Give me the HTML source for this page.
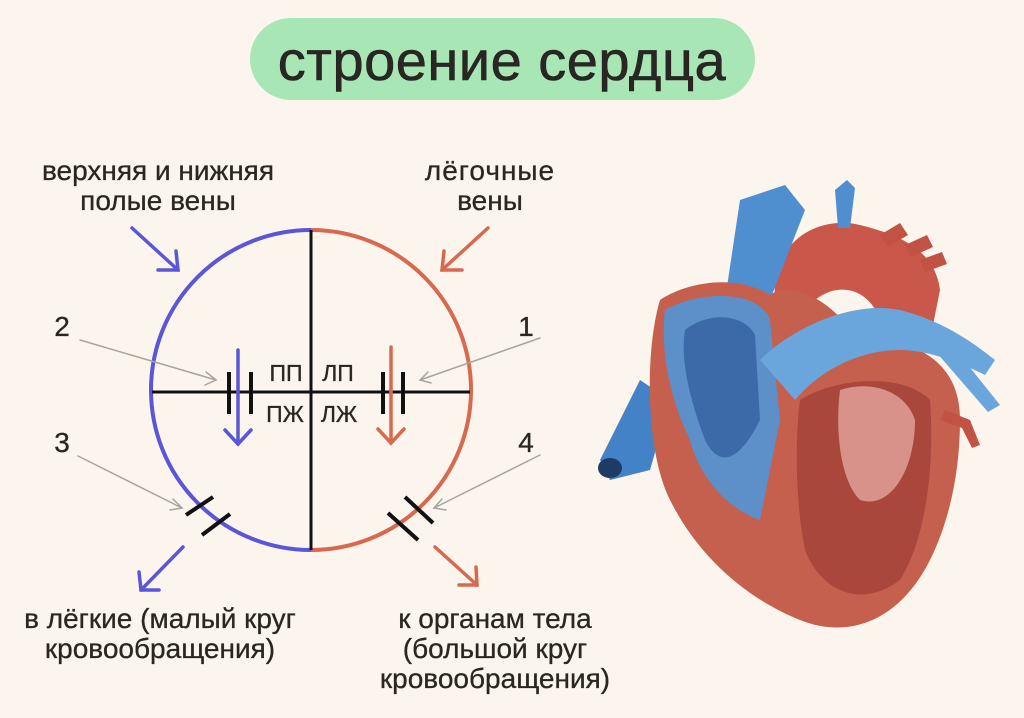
<!DOCTYPE html>
<html><head><meta charset="utf-8"><style>
html,body{margin:0;padding:0;background:#fbf5ee;}
svg{display:block}
text{font-family:"Liberation Sans","DejaVu Sans",sans-serif;fill:#2a2622}
</style></head><body>
<svg width="1024" height="718" viewBox="0 0 1024 718" xmlns="http://www.w3.org/2000/svg">
<rect width="1024" height="718" fill="#fbf5ee"/>
<rect x="250" y="18" width="505" height="82" rx="41" fill="#a8e6b6"/>
<text x="502" y="80" font-size="56" text-anchor="middle" fill="#222" stroke="#222" stroke-width="0.6" letter-spacing="0.5">строение сердца</text>

<g font-size="28" text-anchor="middle" stroke="#2a2622" stroke-width="0.3">
<text x="158" y="180">верхняя и нижняя</text>
<text x="158" y="210">полые вены</text>
<text x="490" y="180" letter-spacing="1">лёгочные</text>
<text x="490" y="210">вены</text>
<text x="160" y="628">в лёгкие (малый круг</text>
<text x="160" y="658">кровообращения)</text>
<text x="495" y="628">к органам тела</text>
<text x="495" y="658">(большой круг</text>
<text x="495" y="688">кровообращения)</text>
<text x="62" y="336">2</text><text x="526" y="336">1</text>
<text x="62" y="452">3</text><text x="526" y="452">4</text>
</g>

<path d="M311 230 A160 160 0 0 0 311 550" fill="none" stroke="#5b56d8" stroke-width="4"/>
<path d="M311 230 A160 160 0 0 1 311 550" fill="none" stroke="#d8694f" stroke-width="4"/>
<line x1="311" y1="230" x2="311" y2="550" stroke="#111" stroke-width="3"/>
<line x1="152" y1="392" x2="470" y2="392" stroke="#111" stroke-width="3"/>
<g stroke="#111" stroke-width="4">
<line x1="229" y1="372" x2="229" y2="414"/><line x1="251" y1="372" x2="251" y2="414"/>
<line x1="383" y1="372" x2="383" y2="414"/><line x1="403" y1="372" x2="403" y2="414"/>
<line x1="186" y1="515" x2="213" y2="497"/><line x1="202" y1="535" x2="230" y2="514"/>
<line x1="388" y1="513" x2="418" y2="540"/><line x1="405" y1="497" x2="433" y2="523"/>
</g>
<g font-size="23" text-anchor="middle" stroke="#2a2622" stroke-width="0.3">
<text x="286" y="381">ПП</text><text x="338" y="381">ЛП</text>
<text x="285" y="422">ПЖ</text><text x="339" y="422">ЛЖ</text>
</g>
<g fill="none" stroke-width="3.5" stroke-linecap="round">
<g stroke="#5b56d8">
<line x1="238" y1="350" x2="238" y2="444"/><polyline points="225,430 238,444 251,430"/>
<line x1="132" y1="228" x2="178" y2="270"/><polyline points="158,270 178,270 176,251"/>
<line x1="183" y1="547" x2="141" y2="590"/><polyline points="139,572 141,590 159,590"/>
</g>
<g stroke="#d8694f">
<line x1="391" y1="347" x2="391" y2="443"/><polyline points="378,429 391,443 404,429"/>
<line x1="488" y1="228" x2="442" y2="270"/><polyline points="462,270 442,270 444,251"/>
<line x1="435" y1="547" x2="477" y2="585"/><polyline points="476,567 477,585 459,585"/>
</g>
<g stroke="#a8a4a0" stroke-width="1.5">
<line x1="80" y1="340" x2="216" y2="380"/><polyline points="206,372 216,380 205,385"/>
<line x1="540" y1="338" x2="420" y2="380"/><polyline points="428,372 420,380 431,383"/>
<line x1="78" y1="456" x2="182" y2="508"/><polyline points="173,499 182,508 170,510"/>
<line x1="540" y1="455" x2="434" y2="508"/><polyline points="442,499 434,508 446,510"/>
</g>
</g>

<g>
<path d="M775 300 C770 240 820 215 860 225 C900 235 935 250 940 290 L930 340 L880 320 C870 290 840 280 815 300 Z" fill="#c9574a"/>
<path d="M880 235 l20 -12 l8 12 l-20 12z M905 245 l22 -10 l6 12 l-22 10z M920 260 l22 -8 l5 12 l-22 8z" fill="#c25244"/>
<path d="M740 200 L785 185 L805 210 L770 300 L725 300 Z" fill="#4f8fd0"/>
<path d="M835 190 l12 -10 l8 8 l-5 40 l-12 0 z" fill="#4f8fd0"/>
<path d="M640 380 L600 460 L610 480 L650 470 L670 400 Z" fill="#4382c6"/>
<ellipse cx="610" cy="468" rx="12" ry="10" fill="#1e3b66"/>
<path d="M660 300 C690 280 740 275 770 295 C790 280 830 300 850 330 C900 340 960 350 960 420 C960 470 950 520 930 560 C900 620 850 640 800 620 C750 600 700 560 670 500 C645 450 645 350 660 300 Z" fill="#c6604e"/>
<path d="M665 310 C700 290 760 290 770 320 L780 420 L760 520 C730 510 700 480 690 440 C670 400 660 350 665 310 Z" fill="#5d8fc8"/>
<path d="M685 330 C710 310 745 315 755 335 L760 420 C740 460 720 470 705 440 C690 400 680 360 685 330 Z" fill="#3c6aa8"/>
<path d="M800 400 C830 380 900 370 930 400 C935 470 925 540 900 580 C860 610 820 590 805 550 C795 500 795 440 800 400 Z" fill="#a9473c"/>
<path d="M840 390 C870 380 905 390 915 420 C915 470 890 510 860 500 C840 480 835 430 840 390 Z" fill="#d9928a"/>
<path d="M760 360 C790 330 850 300 900 310 C940 320 970 340 995 360 L985 375 C955 360 925 350 900 350 C860 350 820 370 795 400 Z" fill="#6aa6dc"/>
<path d="M940 330 L1000 405 L988 412 L930 345 Z" fill="#6aa6dc"/>
<path d="M945 410 l25 10 l10 25 l-8 3 l-10 -20 l-22 -8z" fill="#c25244"/>
</g>
</svg>
</body></html>
